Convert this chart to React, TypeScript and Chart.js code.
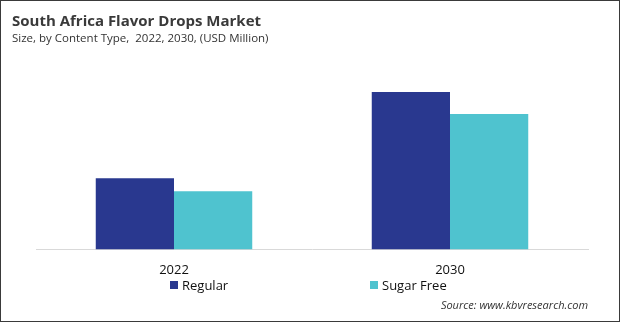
import React, { useEffect, useRef } from "react";
import { Chart, registerables } from "chart.js";

Chart.register(...registerables);

const categories = ["2022", "2030"];
const seriesNames = ["Regular", "Sugar Free"];
const regularValues = [7.1, 15.7];
const sugarFreeValues = [5.8, 13.5];
const seriesColors = ["#29388f", "#4fc3cf"];
const yMax = 18.9;

const FONT = "'Open Sans', 'Noto Sans', sans-serif";

export default function App() {
  const canvasRef = useRef<HTMLCanvasElement | null>(null);

  useEffect(() => {
    document.body.style.margin = "0";
    const ctx = canvasRef.current;
    if (!ctx) return;
    const chart = new Chart(ctx, {
      type: "bar",
      data: {
        labels: categories,
        datasets: [
          {
            label: seriesNames[0],
            data: regularValues,
            backgroundColor: seriesColors[0],
            categoryPercentage: 0.567,
            barPercentage: 1,
          },
          {
            label: seriesNames[1],
            data: sugarFreeValues,
            backgroundColor: seriesColors[1],
            categoryPercentage: 0.567,
            barPercentage: 1,
          },
        ],
      },
      options: {
        animation: false,
        responsive: false,
        maintainAspectRatio: false,
        layout: { padding: { left: 36, right: 32, top: 60, bottom: 39 } },
        plugins: {
          legend: { display: false },
          tooltip: { enabled: false },
          title: { display: false },
        },
        scales: {
          x: {
            grid: { display: false },
            border: { display: true, color: "#d9d9d9", width: 1 },
            ticks: {
              color: "#111",
              padding: 5,
              font: { family: FONT, size: 13 },
            },
          },
          y: {
            display: false,
            min: 0,
            max: yMax,
          },
        },
      },
    });
    return () => chart.destroy();
  }, []);

  return (
    <div
      style={{
        position: "absolute",
        left: 0,
        top: 0,
        width: 620,
        height: 322,
        background: "#fff",
        border: "1px solid #3a3a3a",
        boxSizing: "border-box",
        fontFamily: FONT,
        overflow: "hidden",
      }}
    >
      <canvas
        ref={canvasRef}
        width={620}
        height={322}
        style={{ position: "absolute", left: -1, top: -1, width: 620, height: 322 }}
      />
      <div
        style={{
          position: "absolute",
          left: 11,
          top: 11.7,
          fontSize: 15,
          lineHeight: 1,
          fontWeight: 700,
          color: "#3a3a3a",
          whiteSpace: "nowrap",
        }}
      >
        South Africa Flavor Drops Market
      </div>
      <div
        style={{
          position: "absolute",
          left: 11,
          top: 31.3,
          fontSize: 11.5,
          lineHeight: 1,
          color: "#333",
          whiteSpace: "nowrap",
        }}
      >
        Size, by Content Type,&nbsp; 2022, 2030, (USD Million)
      </div>
      {seriesNames.map((name, i) => (
        <div
          key={name}
          style={{
            position: "absolute",
            left: i === 0 ? 169 : 369,
            top: 275,
            display: "flex",
            alignItems: "center",
            fontSize: 13,
            color: "#111",
            whiteSpace: "nowrap",
          }}
        >
          <span
            style={{
              display: "inline-block",
              width: 8,
              height: 8,
              background: seriesColors[i],
              marginRight: 4,
            }}
          />
          {name}
        </div>
      ))}
      <div
        style={{
          position: "absolute",
          right: 31,
          top: 296,
          fontSize: 11,
          fontStyle: "italic",
          color: "#333",
          whiteSpace: "nowrap",
        }}
      >
        Source: www.kbvresearch.com
      </div>
    </div>
  );
}
